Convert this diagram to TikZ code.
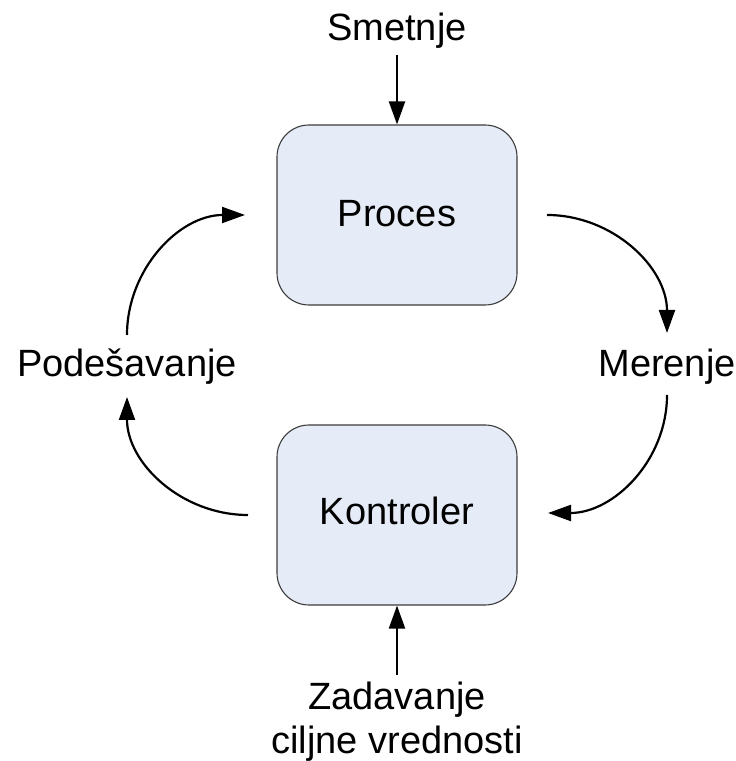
\documentclass[tikz,border=0pt]{standalone}
\usepackage{fontspec}
\setmainfont{Liberation Sans}
\usetikzlibrary{arrows.meta}
\definecolor{boxfill}{RGB}{230,236,247}
\definecolor{boxline}{RGB}{60,60,60}
\tikzset{
  blockbox/.style={draw=boxline, line width=1.1pt, fill=boxfill, rounded corners=32pt,
    minimum width=240pt, minimum height=180pt, inner sep=0pt},
  lbl/.style={font=\fontsize{38}{44}\selectfont, anchor=base, inner sep=0pt},
  arr/.style={line width=2.2pt, -{Triangle[length=23pt,width=16pt]}}
}
\begin{document}
\begin{tikzpicture}[x=1pt,y=1pt]
\useasboundingbox (0,0) rectangle (736,761);
\node[blockbox] (proces) at (397,546) {};
\node[blockbox] (kontroler) at (397,246) {};
\node[lbl] (procest) at (397,534) {Proces};
\node[lbl] (kontrolert) at (397,236) {Kontroler};
\node[lbl] (smetnje) at (397,720) {Smetnje};
\node[lbl] (podes) at (127,384) {Podešavanje};
\node[lbl] (merenje) at (667,384) {Merenje};
\node[lbl] (zad1) at (397,51) {Zadavanje};
\node[lbl] (zad2) at (397,8) {ciljne vrednosti};
\coordinate (sm) at (397,706);
\coordinate (za) at (397,86);
\coordinate (plt) at (127,426);
\coordinate (plb) at (127,364);
\coordinate (pin) at (245,546);
\coordinate (kout) at (248,246);
\coordinate (pout) at (547,546);
\coordinate (mt) at (667,428);
\coordinate (mb) at (667,366);
\coordinate (kin) at (548,248);
\draw[arr] (sm) -- (proces.north);
\draw[arr] (za) -- (kontroler.south);
\draw[arr] (plt) to[out=90,in=180] (pin);
\draw[arr] (kout) to[out=180,in=-90] (plb);
\draw[arr] (pout) to[out=0,in=90] (mt);
\draw[arr] (mb) to[out=-90,in=0] (kin);
\end{tikzpicture}
\end{document}
